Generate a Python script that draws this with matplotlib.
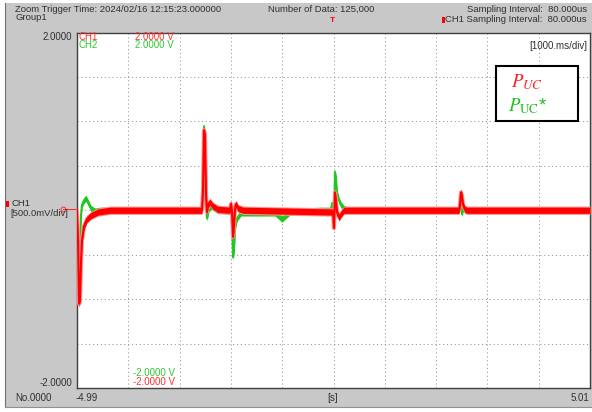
import numpy as np
import matplotlib.pyplot as plt
from matplotlib.patches import Rectangle

plt.rcParams['font.family'] = ['Liberation Sans', 'DejaVu Sans']
plt.rcParams['mathtext.fontset'] = 'stix'

# CH1 (red) and CH2 (green) traces, time in s, level in V
t_ch1 = [-4.99, -4.970, -4.951, -4.932, -4.912, -4.893, -4.854, -4.795, -4.717, -4.581, -4.347,
         -2.553, -2.534, -2.514, -2.495, -2.475, -2.456, -2.436, -2.397, -2.339, -2.241,
         -2.007, -1.988, -1.968, -1.948, -1.929, -1.909, -1.890, -1.851, -1.754,
         0.0, 0.0195, 0.039, 0.058, 0.078, 0.117, 0.156, 0.214,
         2.456, 2.476, 2.495, 2.515, 2.534, 2.573, 2.612, 5.01]
v_ch1 = [-0.01, -0.34, -1.05, -1.01, -0.58, -0.34, -0.18, -0.10, -0.06, -0.02, 0.0,
         0.0, 0.22, 0.90, 0.84, 0.17, -0.02, 0.06, 0.09, 0.045, 0.01,
         0.0, 0.07, -0.02, -0.30, -0.17, 0.02, 0.07, 0.02, 0.0,
         -0.02, -0.20, 0.20, 0.11, -0.02, -0.08, -0.045, 0.0,
         0.0, 0.06, 0.20, 0.16, 0.06, 0.01, 0.0, 0.0]

t_ch2 = [-4.99, -4.970, -4.951, -4.932, -4.912, -4.893, -4.854, -4.815, -4.776, -4.717, -4.639, -4.542,
         -2.553, -2.534, -2.514, -2.495, -2.475, -2.456, -2.417, -2.358, -2.261,
         -2.007, -1.988, -1.968, -1.948, -1.929, -1.909, -1.870, -1.793, -1.130, -1.053, -0.994,
         -0.936, -0.838, -0.643, -0.253,
         -0.039, -0.019, 0.0, 0.0195, 0.039, 0.058, 0.078, 0.117, 0.156, 0.214, 0.292,
         2.456, 2.476, 2.495, 2.515, 2.534, 2.593, 5.01]
v_ch2 = [-0.02, -0.22, -0.58, -0.39, -0.06, 0.06, 0.11, 0.135, 0.09, 0.02, -0.01, 0.0,
         0.0, 0.34, 0.945, 0.79, 0.06, -0.09, 0.02, 0.045, 0.0,
         -0.01, 0.06, -0.11, -0.53, -0.45, -0.20, -0.09, -0.03, -0.03, -0.07, -0.10,
         -0.07, -0.02, -0.01, 0.0,
         0.0, 0.08, -0.045, -0.18, 0.43, 0.36, 0.20, 0.11, 0.06, 0.02, 0.0,
         0.0, 0.02, 0.16, -0.045, 0.02, 0.0, 0.0]

W, H = 592, 412
fig = plt.figure(figsize=(W / 100, H / 100), dpi=100)
fig.patch.set_facecolor('white')

def fx(x):
    return x / W

def fy(y):
    return 1 - y / H

def put(x, y, s, **kw):
    kw.setdefault('fontsize', 6.8)
    kw.setdefault('color', '#303030')
    kw.setdefault('va', 'center')
    fig.text(fx(x), fy(y), s, **kw)

# grey window frame
fig.patches.append(Rectangle((fx(5), fy(407)), fx(587), 404 / H, transform=fig.transFigure,
                             facecolor='#c8c8c8', edgecolor='none', zorder=-5))
fig.add_artist(plt.Line2D([fx(5), fx(5)], [fy(407), fy(3)], transform=fig.transFigure, color='#707070', lw=0.8, zorder=-4))
fig.add_artist(plt.Line2D([fx(5), fx(592)], [fy(407), fy(407)], transform=fig.transFigure, color='#909090', lw=0.8, zorder=-4))

ax = fig.add_axes([fx(77), fy(388), (590 - 77) / W, (388 - 32.5) / H])
ax.set_zorder(1)
ax.set_facecolor('white')
ax.set_xlim(-4.99, 5.01)
ax.set_ylim(-2, 2)
ax.set_xticks(np.arange(-4.99, 5.02, 1.0))
ax.set_yticks(np.arange(-2, 2.01, 0.5))
ax.tick_params(length=0, labelbottom=False, labelleft=False)
ax.grid(True, color='#9a9a9a', lw=0.7, linestyle=(0, (1.2, 2.8)))
for s in ax.spines.values():
    s.set_color('#404040')
    s.set_linewidth(1.0)

band = 0.035
ax.fill_between(t_ch2, np.array(v_ch2) - band, np.array(v_ch2) + band, color='#1ec81e', lw=0, zorder=3)
ax.plot(t_ch2, v_ch2, color='#1ec81e', lw=1.5, zorder=3, solid_joinstyle='round')
# soft halo around the red trace
ax.fill_between(t_ch1, np.array(v_ch1) - band - 0.012, np.array(v_ch1) + band + 0.012, color='#ff9090', lw=0, zorder=4)
ax.plot(t_ch1, v_ch1, color='#ff9090', lw=3.0, zorder=4, solid_joinstyle='round')
ax.fill_between(t_ch1, np.array(v_ch1) - band, np.array(v_ch1) + band, color='#ff0000', lw=0, zorder=5)
ax.plot(t_ch1, v_ch1, color='#ff0000', lw=1.5, zorder=5, solid_joinstyle='round')

# in-plot channel labels
ax.text(0.003, 0.988, 'CH1', transform=ax.transAxes, color='#ff3030', fontsize=7, va='center')
ax.text(0.003, 0.964, 'CH2', transform=ax.transAxes, color='#30c830', fontsize=7, va='center')
ax.text(0.114, 0.988, '2.0000 V', transform=ax.transAxes, color='#ff3030', fontsize=7, va='center')
ax.text(0.114, 0.964, '2.0000 V', transform=ax.transAxes, color='#30c830', fontsize=7, va='center')
ax.text(0.110, 0.042, '-2.0000 V', transform=ax.transAxes, color='#30c830', fontsize=7, va='center')
ax.text(0.110, 0.018, '-2.0000 V', transform=ax.transAxes, color='#ff3030', fontsize=7, va='center')
ax.text(0.994, 0.961, '[1000.ms/div]', transform=ax.transAxes, color='#303030', fontsize=7, va='center', ha='right')

# header
put(15, 9, 'Zoom Trigger Time: 2024/02/16 12:15:23.000000')
put(15, 17.5, 'Group1')
put(268, 9, 'Number of Data: 125,000')
put(587, 9, 'Sampling Interval:  80.000us', ha='right')
put(587, 19.5, 'CH1 Sampling Interval:  80.000us', ha='right')
fig.patches.append(Rectangle((fx(442), fy(22.5)), 3 / W, 6 / H, transform=fig.transFigure,
                             facecolor='#ff0000', edgecolor='none'))
put(332, 20, 'T', color='#ff0000', fontsize=6, ha='center', fontweight='bold')

# channel scale labels
put(72, 37, '2.0000', ha='right', fontsize=7)
put(72, 383, '-2.0000', ha='right', fontsize=7)

# left channel marker and ground level marker
fig.patches.append(Rectangle((fx(6), fy(207)), 3 / W, 6 / H, transform=fig.transFigure,
                             facecolor='#ff0000', edgecolor='none'))
put(11, 204, 'CH1')
put(10, 213, '[500.0mV/div]')
fig.add_artist(plt.Line2D([fx(63), fx(77)], [fy(209), fy(209)], transform=fig.transFigure, color='#ff3030', lw=0.8))
fig.add_artist(plt.Line2D([fx(63)], [fy(209)], transform=fig.transFigure, marker='o', ms=3.5,
                          mfc='none', mec='#ff3030', mew=0.7))

# footer
put(15, 398, 'No.0000', fontsize=7)
put(76, 398, '-4.99', fontsize=7)
put(333, 398, '[s]', ha='center', fontsize=7)
put(589, 398, '5.01', ha='right', fontsize=7)

# legend box
fig.patches.append(Rectangle((fx(496), fy(121)), 82 / W, 55 / H, transform=fig.transFigure,
                             facecolor='white', edgecolor='black', lw=1.5, zorder=5))
put(527, 82, r'$P_{UC}$', color='#ff2020', fontsize=13.5, ha='center', zorder=6)
put(528, 106, r'$P_{\mathrm{UC}}$*', color='#20c020', fontsize=13.5, ha='center', zorder=6)

fig.savefig('out.png', dpi=100)
